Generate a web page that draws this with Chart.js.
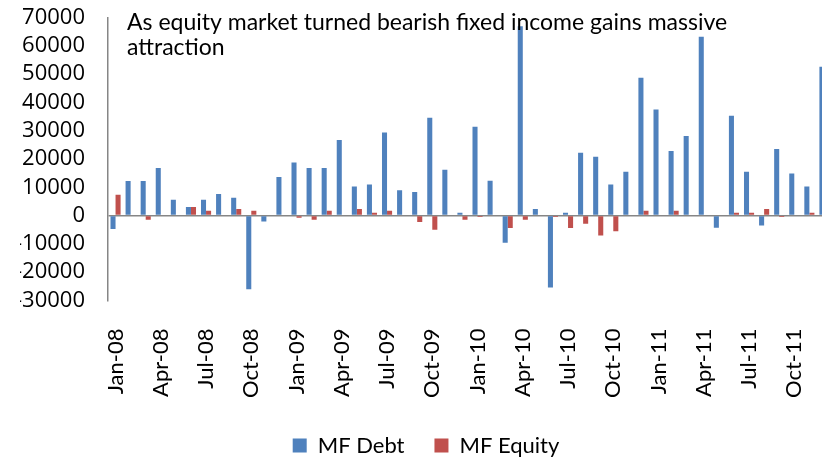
<!DOCTYPE html>
<html>
<head>
<meta charset="utf-8">
<script src="https://cdn.jsdelivr.net/npm/chart.js@4/dist/chart.umd.min.js"></script>
<style>
html,body{margin:0;padding:0;background:#fff;overflow:hidden;}
#wrap{width:866px;height:458px;}
</style>
</head>
<body>
<div id="wrap"><canvas id="c" width="866" height="458"></canvas></div>
<script>
const months = [
 "Jan-08","Feb-08","Mar-08","Apr-08","May-08","Jun-08","Jul-08","Aug-08","Sep-08","Oct-08","Nov-08","Dec-08",
 "Jan-09","Feb-09","Mar-09","Apr-09","May-09","Jun-09","Jul-09","Aug-09","Sep-09","Oct-09","Nov-09","Dec-09",
 "Jan-10","Feb-10","Mar-10","Apr-10","May-10","Jun-10","Jul-10","Aug-10","Sep-10","Oct-10","Nov-10","Dec-10",
 "Jan-11","Feb-11","Mar-11","Apr-11","May-11","Jun-11","Jul-11","Aug-11","Sep-11","Oct-11","Nov-11","Dec-11"
];
const mfDebt = [
 -4700,12200,12200,16800,5600,3000,5600,7600,6300,-26000,-2100,13600,
 18800,16800,16800,26700,10300,11000,29400,9000,8300,34600,16200,1000,
 31400,12300,-9600,66900,2300,-25400,1000,22200,20800,11000,15500,48700,
 37500,22800,28100,63200,-4300,35300,15500,-3500,23500,14900,10300,52600
];
const mfEquity = [
 7400,0,-1500,0,0,3000,1700,0,2300,1700,0,0,
 -800,-1500,1700,0,2300,1000,1700,0,-2300,-5000,0,-1500,
 -500,0,-4400,-1500,0,-500,-4400,-2900,-7000,-5500,0,1700,
 0,1700,0,0,0,1000,1000,2300,-500,0,1000,null
];
const yTicks = { min: -30000, max: 70000, step: 10000 };
const titleLines = ["As equity market turned bearish fixed income gains massive", "attraction"];

const FONT = "Lato";
const titlePlugin = {
  id: 'innerTitle',
  afterDraw(chart) {
    const ctx = chart.ctx, a = chart.chartArea;
    ctx.save();
    ctx.font = "23px " + FONT;
    ctx.fillStyle = "#000";
    ctx.textAlign = "left";
    ctx.textBaseline = "alphabetic";
    titleLines.forEach((t, i) => ctx.fillText(t, a.left + 19, a.top + 12.5 + i * 25));
    ctx.restore();
  }
};

new Chart(document.getElementById('c'), {
  type: 'bar',
  data: {
    labels: months,
    datasets: [
      { label: 'MF Debt', data: mfDebt, backgroundColor: '#4F81BD', borderWidth: 0 },
      { label: 'MF Equity', data: mfEquity, backgroundColor: '#C0504D', borderWidth: 0 }
    ]
  },
  options: {
    responsive: false,
    animation: false,
    layout: { padding: { left: 20, right: 34, top: 17.5, bottom: -8.5 } },
    datasets: { bar: { categoryPercentage: 0.67, barPercentage: 1.0 } },
    plugins: {
      legend: {
        position: 'bottom',
        labels: {
          boxWidth: 14, boxHeight: 14, padding: 30,
          font: { family: FONT, size: 22 }, color: '#000'
        }
      },
      tooltip: { enabled: false }
    },
    scales: {
      x: {
        grid: { display: false, drawTicks: false },
        border: { display: false },
        afterFit: s => { s.height = 104; s.paddingLeft = 0; s.paddingRight = 0; },
        ticks: {
          autoSkip: false, minRotation: 90, maxRotation: 90, padding: 28,
          font: { family: FONT, size: 22 }, color: '#000',
          callback: function(v, i) { return i % 3 === 0 ? months[i] : ''; }
        }
      },
      y: {
        min: yTicks.min, max: yTicks.max,
        afterFit: s => { s.width = 88; s.paddingTop = 0; s.paddingBottom = 0; },
        grid: {
          drawTicks: false,
          color: c => (c.tick && c.tick.value === 0) ? '#868686' : 'rgba(0,0,0,0)',
          lineWidth: 1.5
        },
        border: { display: true, color: '#868686', width: 1.5 },
        ticks: {
          stepSize: yTicks.step, padding: 23, autoSkip: false,
          font: { family: "Open Sans", size: 22, lineHeight: 1 }, color: '#000',
          callback: v => String(v)
        }
      }
    }
  },
  plugins: [titlePlugin]
});
</script>
</body>
</html>
